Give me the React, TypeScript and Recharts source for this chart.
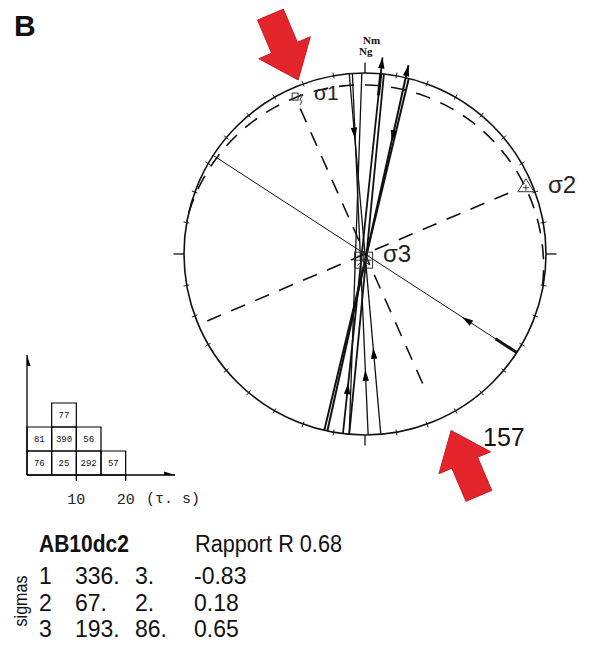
import React from 'react';
import {
  ScatterChart,
  Scatter,
  XAxis,
  YAxis,
  ReferenceLine,
  ReferenceDot,
  ReferenceArea,
} from 'recharts';

// principal stress axes: trend / plunge (deg) and shape values
const sigmaNames = ['1', '2', '3'];
const sigmaTrend = [336, 67, 193];
const sigmaPlunge = [3, 2, 86];
const sigmaValue = [-0.83, 0.18, 0.65];
const ratioR = 0.68;
const siteName = 'AB10dc2';
const shorteningAz = 157;

// fault traces: rim azimuth at the top end and at the bottom end
const traceTop = [355, 356, 359, 5, 6, 13, 14, 303];
const traceBottom = [175, 179, 185, 187, 185, 192, 193, 123];
const traceWidth = [1.3, 1.3, 1.3, 1.8, 1.8, 2, 2, 1];
const thickTrace = [3, 7];
const thickFrom = [0, 0.93];
const thickTo = [0.06, 1];

// slip arrows: trace index, position along trace (0 = top end), sense (+1 toward bottom end)
const slipTrace = [0, 3, 5, 5, 0, 1, 3, 7];
const slipPos = [0.18, -0.045, -0.035, 0.18, 0.76, 0.82, 0.86, 0.82];
const slipDir = [1, -1, -1, 1, -1, -1, -1, -1];

// rim graduations
const rimTicks = [
  10, 20, 30, 40, 50, 60, 70, 80, 100, 110, 120, 130, 140, 150, 160, 170,
  190, 200, 210, 220, 230, 240, 250, 260, 280, 290, 300, 310, 320, 330, 340, 350,
];
const cardinalTicks = [0, 90, 180, 270];

// histogram of misfit angle (τ, s): fault ids stacked in each 5-unit bin
const tauBinStart = [0, 5, 10, 15];
const tauBinWidth = 5;
const faultIdsPerBin = [[76, 81], [25, 390, 77], [292, 56], [57]];
const tauTicks = [10, 20];

const W = 592;
const H = 652;
const CX = 365;
const CY = 254;
const R = 181;

const rad = (d: number) => (d * Math.PI) / 180;
const onRim = (az: number, r = 1) => ({ x: r * Math.sin(rad(az)), y: r * Math.cos(rad(az)) });
const stereo = (trend: number, plunge: number) => onRim(trend, Math.tan(rad((90 - plunge) / 2)));

const along = (i: number, t: number) => {
  const a = onRim(traceTop[i]);
  const b = onRim(traceBottom[i]);
  return { x: a.x + t * (b.x - a.x), y: a.y + t * (b.y - a.y) };
};

// plane normal to sigma 3 (contains sigma 1 and sigma 2)
const planeDipDir = (sigmaTrend[2] + 180) % 360;
const planeDip = 90 - sigmaPlunge[2];
const planeArc: { x: number; y: number }[] = [];
for (let a = planeDipDir - 90; a <= planeDipDir + 90; a += 3) {
  const p = (Math.atan(Math.tan(rad(planeDip)) * Math.cos(rad(a - planeDipDir))) * 180) / Math.PI;
  planeArc.push(stereo(a, p));
}

const slipMarks = slipTrace.map((ti, k) => {
  const p = along(ti, slipPos[k]);
  const a = onRim(traceTop[ti]);
  const b = onRim(traceBottom[ti]);
  return { ...p, dx: (b.x - a.x) * slipDir[k], dy: (b.y - a.y) * slipDir[k] };
});

const redArrows = [
  { ...onRim(339, 1.03), heading: shorteningAz },
  { ...onRim(154, 1.085), heading: shorteningAz + 180 },
];

const sigmaMarks = sigmaTrend.map((t, i) => ({ ...stereo(t, sigmaPlunge[i]), kind: i }));

const SlipHead = (props: any) => {
  const { cx, cy, payload } = props;
  const len = Math.hypot(payload.dx, payload.dy);
  const ux = payload.dx / len;
  const uy = -payload.dy / len;
  const px = -uy;
  const py = ux;
  const bx = cx - ux * 11;
  const by = cy - uy * 11;
  const pts = `${cx},${cy} ${bx + px * 3.2},${by + py * 3.2} ${bx - px * 3.2},${by - py * 3.2}`;
  return <polygon points={pts} fill="#000" />;
};

const RedArrow = (props: any) => {
  const { cx, cy, payload } = props;
  const h = rad(payload.heading);
  const dx = Math.sin(h);
  const dy = -Math.cos(h);
  const px = Math.cos(h);
  const py = Math.sin(h);
  const bx = cx - dx * 35;
  const by = cy - dy * 35;
  const tx = bx - dx * 36;
  const ty = by - dy * 36;
  const pts = [
    [cx, cy],
    [bx + px * 28, by + py * 28],
    [bx + px * 14, by + py * 14],
    [tx + px * 14, ty + py * 14],
    [tx - px * 14, ty - py * 14],
    [bx - px * 14, by - py * 14],
    [bx - px * 28, by - py * 28],
  ]
    .map((p) => p.join(','))
    .join(' ');
  return <polygon points={pts} fill="#e3252b" stroke="#c41c22" strokeWidth={1} strokeLinejoin="round" />;
};

const SigmaMark = (props: any) => {
  const { cx, cy, payload } = props;
  if (payload.kind === 0) {
    return (
      <g fill="none" stroke="#333" strokeWidth={1}>
        <rect x={cx - 3} y={cy - 4} width={6} height={7} />
        <path d={`M${cx + 5},${cy - 3} q3,3 0,5 q3,2 0,6`} />
      </g>
    );
  }
  if (payload.kind === 1) {
    return (
      <g fill="none" stroke="#333" strokeWidth={1}>
        <polygon points={`${cx},${cy - 7} ${cx + 8},${cy + 6} ${cx - 8},${cy + 6}`} />
        <path d={`M${cx - 3},${cy + 2} l6,0 M${cx},${cy - 1} l0,6`} />
      </g>
    );
  }
  return (
    <g fill="none" stroke="#333" strokeWidth={1}>
      <rect x={cx - 9} y={cy - 8} width={18} height={16} />
      <path d={`M${cx - 6},${cy - 5} l12,10 M${cx + 6},${cy - 5} l-12,10 M${cx},${cy - 7} l0,14 M${cx - 8},${cy} l16,0`} />
    </g>
  );
};

const AxisHead = (props: any) => {
  const { cx, cy, payload } = props;
  const pts =
    payload.dir === 'up'
      ? `${cx},${cy} ${cx - 3.5},${cy + 11} ${cx + 3.5},${cy + 11}`
      : `${cx},${cy} ${cx - 11},${cy - 3.5} ${cx - 11},${cy + 3.5}`;
  return <polygon points={pts} fill="#000" />;
};

const Empty = () => <g />;

const sans = "'Liberation Sans', Arial, sans-serif";
const serif = "'Liberation Serif', 'DejaVu Serif', serif";
const mono = "'Liberation Mono', 'DejaVu Sans Mono', monospace";

const Stereonet = () => (
  <ScatterChart width={W} height={H} margin={{ top: 0, right: 0, bottom: 0, left: 0 }}>
    <XAxis type="number" dataKey="x" domain={[-CX / R, (W - CX) / R]} allowDataOverflow hide />
    <YAxis type="number" dataKey="y" domain={[-(H - CY) / R, CY / R]} allowDataOverflow hide />
    <ReferenceDot x={0} y={0} r={R} fill="none" stroke="#111" strokeWidth={1.6} ifOverflow="visible" />
    {rimTicks.map((az) => (
      <ReferenceLine key={`t${az}`} segment={[onRim(az, 0.985), onRim(az, 1.018)]} stroke="#222" strokeWidth={1} ifOverflow="visible" />
    ))}
    {cardinalTicks.map((az) => (
      <ReferenceLine key={`c${az}`} segment={[onRim(az, 1), onRim(az, 1.058)]} stroke="#111" strokeWidth={1.3} ifOverflow="visible" />
    ))}
    <ReferenceLine segment={[onRim(sigmaTrend[0], 0.88), onRim(sigmaTrend[0] + 180, 0.84)]} stroke="#111" strokeWidth={1.6} strokeDasharray="15 11" ifOverflow="visible" />
    <ReferenceLine segment={[onRim(sigmaTrend[1], 0.86), onRim(sigmaTrend[1] + 180, 0.96)]} stroke="#111" strokeWidth={1.6} strokeDasharray="15 11" ifOverflow="visible" />
    {traceTop.map((az, i) => {
      const tMin = Math.min(0, ...slipTrace.map((ti, k) => (ti === i ? slipPos[k] : 0)));
      return (
        <ReferenceLine key={`f${i}`} segment={[along(i, tMin), along(i, 1)]} stroke="#111" strokeWidth={traceWidth[i]} ifOverflow="visible" />
      );
    })}
    {thickTrace.map((ti, k) => (
      <ReferenceLine key={`k${k}`} segment={[along(ti, thickFrom[k]), along(ti, thickTo[k])]} stroke="#111" strokeWidth={3} ifOverflow="visible" />
    ))}
    <Scatter
      data={planeArc}
      line={{ stroke: '#111', strokeWidth: 1.6, strokeDasharray: '15 11' }}
      lineType="joint"
      shape={Empty}
      isAnimationActive={false}
    />
    <Scatter data={slipMarks} shape={SlipHead} isAnimationActive={false} />
    <Scatter data={sigmaMarks} shape={SigmaMark} isAnimationActive={false} />
    <Scatter data={redArrows} shape={RedArrow} isAnimationActive={false} />
  </ScatterChart>
);

const Histogram = () => (
  <ScatterChart width={220} height={180} margin={{ top: 15, right: 45, bottom: 0, left: 27 }}>
    <XAxis
      type="number"
      dataKey="x"
      domain={[0, 30]}
      ticks={tauTicks}
      allowDataOverflow
      height={45}
      tickSize={6}
      tickMargin={12}
      axisLine={{ stroke: '#000', strokeWidth: 1.3 }}
      tickLine={{ stroke: '#000', strokeWidth: 1.3 }}
      tick={{ fill: '#222', fontSize: 15, fontFamily: mono }}
    />
    <YAxis type="number" dataKey="y" domain={[0, 5]} allowDataOverflow hide />
    {faultIdsPerBin.flatMap((ids, b) =>
      ids.map((id, row) => (
        <ReferenceArea
          key={`${b}-${row}`}
          x1={tauBinStart[b]}
          x2={tauBinStart[b] + tauBinWidth}
          y1={row}
          y2={row + 1}
          stroke="#000"
          strokeWidth={1.2}
          fill="none"
          ifOverflow="visible"
          label={{ value: String(id), position: 'center', fontSize: 9, fill: '#111', fontFamily: mono }}
        />
      )),
    )}
    <ReferenceLine segment={[{ x: 0, y: 0 }, { x: 0, y: 5 }]} stroke="#000" strokeWidth={1.3} ifOverflow="visible" />
    <Scatter
      data={[
        { x: 30, y: 0, dir: 'right' },
        { x: 0, y: 5, dir: 'up' },
      ]}
      shape={AxisHead}
      isAnimationActive={false}
    />
  </ScatterChart>
);

const rowY = [584, 611, 637];

export default function App() {
  return (
    <div style={{ position: 'absolute', left: 0, top: 0, width: W, height: H, background: '#fff' }}>
      <div style={{ position: 'absolute', left: 0, top: 0 }}>
        <Stereonet />
      </div>
      <div style={{ position: 'absolute', left: 0, top: 340 }}>
        <Histogram />
      </div>
      <svg width={W} height={H} style={{ position: 'absolute', left: 0, top: 0, pointerEvents: 'none' }}>
        <text x={14} y={36} fontFamily={sans} fontWeight="bold" fontSize={30} fill="#111">B</text>
        <text x={363} y={44} fontFamily={serif} fontWeight="bold" fontSize={11} fill="#111">Nm</text>
        <text x={359} y={55} fontFamily={serif} fontWeight="bold" fontSize={11} fill="#111">Ng</text>
        <text x={314} y={100} fontFamily={sans} fontSize={21} fill="#222">σ1</text>
        <text x={548} y={193} fontFamily={sans} fontSize={24} fill="#222">σ2</text>
        <text x={383} y={262} fontFamily={sans} fontSize={24} fill="#222">σ3</text>
        <text x={483} y={446} fontFamily={sans} fontSize={25} fill="#111">{shorteningAz}</text>
        <text x={146} y={503} fontFamily={mono} fontSize={15} fill="#222">(τ. s)</text>

        <text x={39} y={552} fontFamily={sans} fontWeight="bold" fontSize={23} fill="#111" textLength={90} lengthAdjust="spacingAndGlyphs">{siteName}</text>
        <text x={195} y={552} fontFamily={sans} fontSize={23} fill="#111" textLength={147} lengthAdjust="spacingAndGlyphs">{`Rapport R ${ratioR.toFixed(2)}`}</text>
        <text transform="translate(27,601) rotate(-90)" textAnchor="middle" fontFamily={sans} fontSize={19} fill="#111" textLength={51} lengthAdjust="spacingAndGlyphs">sigmas</text>
        {sigmaNames.map((n, i) => (
          <g key={n} fontFamily={sans} fontSize={23} fill="#111">
            <text x={39} y={rowY[i]}>{n}</text>
            <text x={75} y={rowY[i]}>{`${sigmaTrend[i]}.`}</text>
            <text x={135} y={rowY[i]}>{`${sigmaPlunge[i]}.`}</text>
            <text x={194} y={rowY[i]}>{sigmaValue[i].toFixed(2)}</text>
          </g>
        ))}
      </svg>
    </div>
  );
}
